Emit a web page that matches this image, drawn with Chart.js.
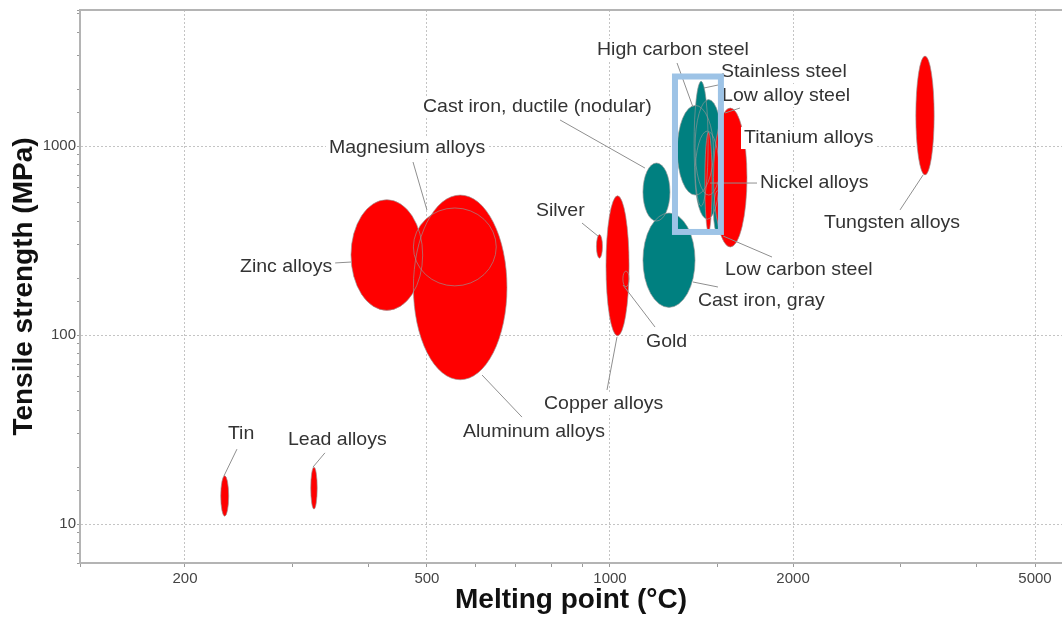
<!DOCTYPE html>
<html>
<head>
<meta charset="utf-8">
<title>Tensile strength vs melting point</title>
<script src="https://cdn.jsdelivr.net/npm/chart.js@4.4.1/dist/chart.umd.min.js"></script>
<style>
  html, body { margin: 0; padding: 0; background: #ffffff; }
  #wrap { width: 1062px; height: 617px; }
</style>
</head>
<body>
<div id="wrap"><canvas id="chart" width="1062" height="617"></canvas></div>
<script>
// ---- Material property ranges (melting point in °C, tensile strength in MPa) ----
const materials = [
  'Tin', 'Lead alloys', 'Zinc alloys', 'Magnesium alloys', 'Aluminum alloys',
  'Silver', 'Copper alloys', 'Gold',
  'Cast iron, ductile (nodular)', 'Cast iron, gray',
  'High carbon steel', 'Low alloy steel', 'Medium carbon steel', 'Stainless steel', 'Low carbon steel',
  'Nickel alloys', 'Titanium alloys', 'Tungsten alloys'
];
const family = [
  'nonferrous', 'nonferrous', 'nonferrous', 'nonferrous', 'nonferrous',
  'nonferrous', 'nonferrous', 'nonferrous',
  'ferrous', 'ferrous',
  'ferrous', 'ferrous', 'ferrous', 'ferrous', 'ferrous',
  'nonferrous', 'nonferrous', 'nonferrous'
];
const meltMin     = [229, 322, 375, 475, 475,  950,  985, 1050, 1133, 1133, 1290, 1380, 1380, 1375, 1480, 1432, 1480, 3184];
const meltMax     = [236, 330, 492, 650, 677,  972, 1075, 1075, 1255, 1380, 1480, 1530, 1514, 1450, 1526, 1472, 1680, 3413];
const strengthMin = [ 11,  12, 135, 182,  58,  255,   99,  180,  401,  140,  550,  550,  410,  480,  345,  351,  292,  703];
const strengthMax = [ 18,  20, 520, 470, 550,  340,  545,  218,  813,  442, 1640, 1760, 1200, 2200,  580, 1186, 1590, 2993];

// ---- Axis ticks ----
const meltTicks = [200, 500, 1000, 2000, 5000];
const strengthTicks = [10, 100, 1000];
const meltRange = [134.4, 5538];
const strengthRange = [6.22, 5244];

// ---- Annotation labels (text anchored at left/middle, in data units) ----
const labelText = [
  'High carbon steel', 'Stainless steel', 'Low alloy steel', 'Titanium alloys', 'Nickel alloys',
  'Tungsten alloys', 'Low carbon steel', 'Cast iron, gray', 'Cast iron, ductile (nodular)',
  'Magnesium alloys', 'Zinc alloys', 'Silver', 'Gold', 'Copper alloys', 'Aluminum alloys',
  'Tin', 'Lead alloys'
];
const labelMelt     = [952, 1522, 1529, 1661, 1765, 2249, 1546, 1395, 492.5, 345, 246.3, 755.4, 1146, 778.9, 573, 235.3, 295.4];
const labelStrength = [3220, 2463, 1839, 1102, 637, 391, 220.8, 151.3, 1608, 975.9, 229, 453, 91.8, 43.1, 30.7, 29.9, 27.8];
// Leader lines: start near the text, end at the range bubble (null = no leader)
const leaderFromMelt     = [1289, 1505, 1636, null, 1745, 2999, 1847, 1505, 827.7, 474.3, 351.6, 899.4, 1186, 988.7, 716.6, 243.5, 339.8];
const leaderFromStrength = [2749, 2102, 1589, null, 637, 459, 258.6, 179.5, 1373, 823, 240.4, 391.4, 110.2, 51.2, 36.8, 24.9, 23.8];
const leaderToMelt       = [1369, 1427, 1546, null, 1461, 3272, 1535, 1369, 1141.6, 500, 375, 955.6, 1050.5, 1026.8, 616.1, 231.7, 324.7];
const leaderToStrength   = [1608, 2027, 1495, null, 637, 702, 334, 190.8, 764.6, 458.6, 243.3, 334, 183.9, 97.6, 61.4, 17.9, 20.0];

// Highlight frame around the steels (data units)
const steelFrameMelt = [1279, 1522];
const steelFrameStrength = [351, 2332];

const familyColor = { nonferrous: '#ff0000', ferrous: '#008080' };
const FONT = "'Liberation Sans', Arial, sans-serif";
const LABEL_STRETCH = 1.055;
const near = (v, list) => list.some(t => Math.abs(v - t) < 1e-6 * t);

const ellipsePlugin = {
  id: 'rangeEllipses',
  beforeDatasetsDraw(chart) {
    const { ctx, chartArea, scales: { x, y } } = chart;
    // frame top edge
    ctx.save();
    ctx.strokeStyle = '#b4b4b4';
    ctx.lineWidth = 2;
    ctx.beginPath();
    ctx.moveTo(chartArea.left, chartArea.top);
    ctx.lineTo(chartArea.right, chartArea.top);
    ctx.stroke();
    ctx.restore();

    const shapes = materials.map((m, i) => {
      const x0 = x.getPixelForValue(meltMin[i]);
      const x1 = x.getPixelForValue(meltMax[i]);
      const y0 = y.getPixelForValue(strengthMax[i]);
      const y1 = y.getPixelForValue(strengthMin[i]);
      return {
        cx: (x0 + x1) / 2, cy: (y0 + y1) / 2,
        rx: Math.max((x1 - x0) / 2, 1), ry: Math.max((y1 - y0) / 2, 1),
        color: familyColor[family[i]]
      };
    });
    ctx.save();
    ctx.beginPath();
    ctx.rect(chartArea.left, chartArea.top, chartArea.width, chartArea.height);
    ctx.clip();
    shapes.forEach(s => {
      ctx.beginPath();
      ctx.ellipse(s.cx, s.cy, s.rx, s.ry, 0, 0, Math.PI * 2);
      ctx.fillStyle = s.color;
      ctx.fill();
    });
    ctx.lineWidth = 1;
    ctx.strokeStyle = 'rgba(150,150,150,0.65)';
    shapes.forEach(s => {
      ctx.beginPath();
      ctx.ellipse(s.cx, s.cy, s.rx, s.ry, 0, 0, Math.PI * 2);
      ctx.stroke();
    });
    ctx.restore();
  },
  afterDatasetsDraw(chart) {
    const { ctx, scales: { x, y } } = chart;
    ctx.save();
    // leader lines
    ctx.strokeStyle = '#8f8f8f';
    ctx.lineWidth = 1;
    labelText.forEach((t, i) => {
      if (leaderFromMelt[i] == null) return;
      ctx.beginPath();
      ctx.moveTo(x.getPixelForValue(leaderFromMelt[i]), y.getPixelForValue(leaderFromStrength[i]));
      ctx.lineTo(x.getPixelForValue(leaderToMelt[i]), y.getPixelForValue(leaderToStrength[i]));
      ctx.stroke();
    });
    // labels with white backing
    ctx.font = '18.5px ' + FONT;
    ctx.textBaseline = 'middle';
    ctx.textAlign = 'left';
    labelText.forEach((t, i) => {
      const px = x.getPixelForValue(labelMelt[i]);
      const py = y.getPixelForValue(labelStrength[i]);
      const w = ctx.measureText(t).width * LABEL_STRETCH;
      ctx.fillStyle = '#ffffff';
      ctx.fillRect(px - 3, py - 11, w + 6, 22);
      ctx.save();
      ctx.translate(px, py);
      ctx.scale(LABEL_STRETCH, 1);
      ctx.fillStyle = '#333333';
      ctx.fillText(t, 0, 0);
      ctx.restore();
    });
    // steel highlight frame
    const fx0 = x.getPixelForValue(steelFrameMelt[0]);
    const fx1 = x.getPixelForValue(steelFrameMelt[1]);
    const fy0 = y.getPixelForValue(steelFrameStrength[1]);
    const fy1 = y.getPixelForValue(steelFrameStrength[0]);
    ctx.strokeStyle = '#9dc3e6';
    ctx.lineWidth = 6;
    ctx.strokeRect(fx0, fy0, fx1 - fx0, fy1 - fy0);
    ctx.restore();
  }
};

const centers = (fam) => materials
  .map((m, i) => ({ m, i }))
  .filter(o => family[o.i] === fam)
  .map(o => ({ x: Math.sqrt(meltMin[o.i] * meltMax[o.i]), y: Math.sqrt(strengthMin[o.i] * strengthMax[o.i]) }));

new Chart(document.getElementById('chart'), {
  type: 'scatter',
  data: {
    datasets: [
      { label: 'Non-ferrous', data: centers('nonferrous'), pointRadius: 0, backgroundColor: familyColor.nonferrous },
      { label: 'Ferrous', data: centers('ferrous'), pointRadius: 0, backgroundColor: familyColor.ferrous }
    ]
  },
  options: {
    responsive: false,
    animation: false,
    devicePixelRatio: 1,
    layout: { padding: { top: 10, right: 0, left: 0, bottom: 0 } },
    plugins: { legend: { display: false }, tooltip: { enabled: false } },
    scales: {
      x: {
        type: 'logarithmic',
        min: meltRange[0], max: meltRange[1],
        afterFit(s) { s.height = 54; s.paddingLeft = 0; s.paddingRight = 0; },
        grid: {
          color: c => (c.tick && near(c.tick.value, meltTicks)) ? '#c4c4c4' : 'rgba(0,0,0,0)',
          lineWidth: 1,
          tickColor: '#9a9a9a',
          tickLength: 4,
          drawTicks: true
        },
        border: { display: true, color: '#b4b4b4', width: 2, dash: [2, 2] },
        ticks: {
          autoSkip: false, maxRotation: 0, padding: 3,
          color: '#444444',
          font: { family: FONT, size: 15 },
          callback: v => near(v, meltTicks) ? String(v) : ''
        },
        title: {
          display: true, text: 'Melting point (°C)', color: '#111111',
          font: { family: FONT, size: 28, weight: 'bold', lineHeight: 1.2 },
          padding: { top: 0, bottom: 0 }
        }
      },
      y: {
        type: 'logarithmic',
        min: strengthRange[0], max: strengthRange[1],
        afterFit(s) { s.width = 80; s.paddingTop = 0; s.paddingBottom = 0; },
        grid: {
          color: c => (c.tick && near(c.tick.value, strengthTicks)) ? '#c4c4c4' : 'rgba(0,0,0,0)',
          lineWidth: 1,
          tickColor: '#9a9a9a',
          tickLength: 3,
          drawTicks: true
        },
        border: { display: true, color: '#b4b4b4', width: 2, dash: [2, 2] },
        ticks: {
          autoSkip: false, padding: 1,
          color: '#444444',
          font: { family: FONT, size: 15 },
          callback: v => near(v, strengthTicks) ? String(v) : ''
        },
        title: {
          display: true, text: 'Tensile strength (MPa)', color: '#111111',
          font: { family: FONT, size: 28, weight: 'bold', lineHeight: 1.2 },
          padding: { top: 7, bottom: 0 }
        }
      }
    }
  },
  plugins: [ellipsePlugin]
});
</script>
</body>
</html>
